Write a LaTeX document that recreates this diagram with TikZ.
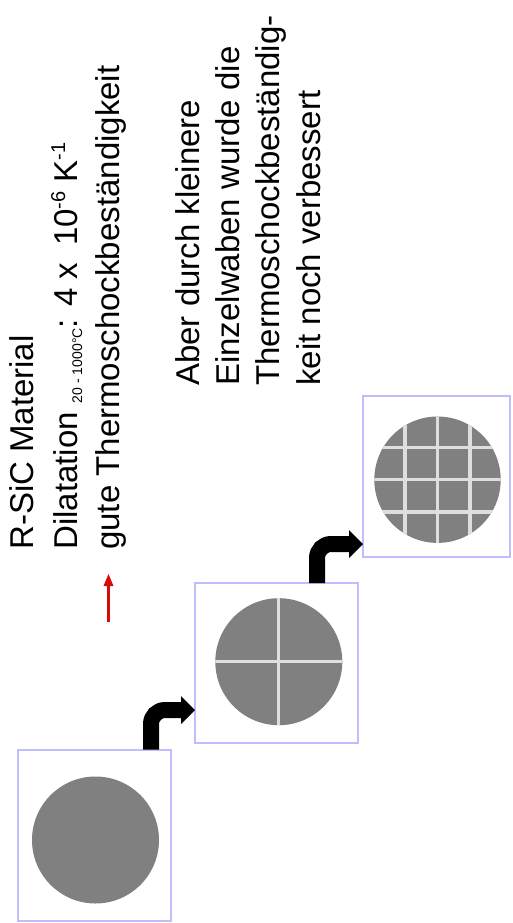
\documentclass[tikz,border=0pt]{standalone}
\usepackage{fontspec}
\setmainfont{Liberation Sans}
\usetikzlibrary{arrows.meta}

\definecolor{framecol}{RGB}{190,190,255}
\definecolor{discgray}{RGB}{128,128,128}
\definecolor{seamcol}{RGB}{222,222,222}
\definecolor{bulletred}{RGB}{215,10,10}

\newcommand{\subtext}[1]{\raisebox{-5pt}{\fontsize{14}{14}\selectfont #1}}
\newcommand{\suptext}[1]{\raisebox{12pt}{\fontsize{20}{20}\selectfont #1}}

\begin{document}
\begin{tikzpicture}[x=1pt,y=-1pt,
  frame/.style={draw=framecol, line width=2pt, inner sep=0pt, outer sep=0pt},
  disc/.style={fill=discgray},
  seam/.style={draw=seamcol, line width=3.3pt},
  labeltext/.style={rotate=90, anchor=base west, inner sep=0pt,
    font=\fontsize{33}{40}\selectfont},
  bendarrow/.style={line width=16pt, rounded corners=14pt,
    -{Triangle[width=28pt,length=14pt,line width=0pt]}},
  bulletarrow/.style={draw=bulletred, line width=3.5pt,
    -{Triangle[width=10pt,length=12pt,line width=0pt]}}]

\useasboundingbox (0,0) rectangle (512,923);

% text block: material properties
\node[labeltext] (t1) at (33.5,550) {R-SiC Material};
\node[labeltext] (t2) at (77,550)
  {Dilatation \subtext{20 - 1000°C}: 4 x\hspace{17pt}10\suptext{-6} K\suptext{-1}};
\node[labeltext] (t3) at (119,550) {gute Thermoschockbeständigkeit};
\coordinate (r0) at (108.5,622);
\coordinate (r1) at (108.5,574);
\draw[bulletarrow] (r0) -- (r1);

% text block: smaller cells
\node[labeltext] (u1) at (199,386) {Aber durch kleinere};
\node[labeltext] (u2) at (239,386) {Einzelwaben wurde die};
\node[labeltext] (u3) at (279,386) {Thermoschockbeständig-};
\node[labeltext] (u4) at (320,386) {keit noch verbessert};

% frames
\node[frame, minimum width=153pt, minimum height=171pt] (b1) at (94.5,835) {};
\node[frame, minimum width=163pt, minimum height=160pt] (b2) at (276.5,663) {};
\node[frame, minimum width=147pt, minimum height=161pt] (b3) at (436.5,476.5) {};

% solid disc
\fill[disc] (95.5,840) circle (63.5);

% disc split in four
\fill[disc] (278.8,661.7) circle (63.5);
\begin{scope}
  \clip (278.8,661.7) circle (63.5);
  \draw[seam] (278.8,590) -- (278.8,735);
  \draw[seam] (205,661.7) -- (355,661.7);
\end{scope}

% disc split in small cells
\fill[disc] (437.5,479.7) circle (63.2);
\begin{scope}
  \clip (437.5,479.7) circle (63.2);
  \foreach \dx in {-32.5,0,32.5} {
    \draw[seam] (437.5+\dx,410) -- (437.5+\dx,550);
  }
  \foreach \dy in {-32,0,32.3} {
    \draw[seam] (370,479.7+\dy) -- (505,479.7+\dy);
  }
\end{scope}

% bent arrows between frames
\draw[bendarrow] ([xshift=-20pt]b1.north east) |- ([yshift=-47pt]b2.west);
\draw[bendarrow] ([xshift=-41pt]b2.north east) |- ([yshift=-67.5pt]b3.west);

\end{tikzpicture}
\end{document}
